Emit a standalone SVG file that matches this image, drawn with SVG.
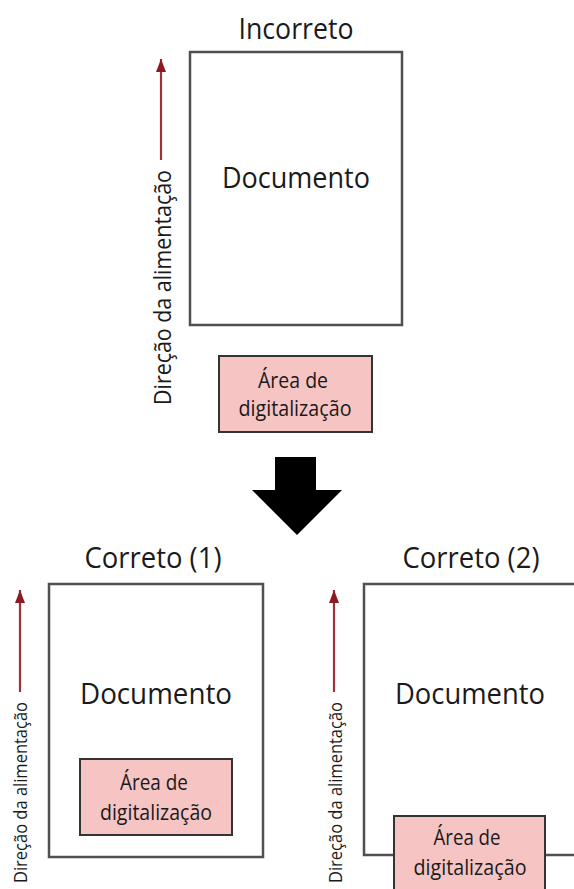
<svg xmlns="http://www.w3.org/2000/svg" width="574" height="889" viewBox="0 0 574 889">
<style>
.doc{fill:#fff;stroke:#505050;stroke-width:2.5}
.scan{fill:#f7c4c4;stroke:#333;stroke-width:2}
text{font-family:"Open Sans","Noto Sans",sans-serif;fill:#1a1a1a}
.t{font-size:29px;text-anchor:middle}
.s{font-size:21px;text-anchor:middle}
.feed{stroke:#a0303a;stroke-width:2.2;fill:none}
</style>
<defs>
<marker id="ah" markerWidth="13" markerHeight="10" refX="13" refY="5" orient="auto" markerUnits="userSpaceOnUse" viewBox="0 0 13 10">
<path d="M0,0 L13,5 L0,10 Z" fill="#8b1a24"/>
</marker>
</defs>
<g id="incorreto">
<text class="t" x="296" y="39" textLength="115" lengthAdjust="spacingAndGlyphs">Incorreto</text>
<rect class="doc" x="190" y="52" width="212" height="273"/>
<text class="t" x="296" y="188" textLength="148" lengthAdjust="spacingAndGlyphs">Documento</text>
</g>
<g id="scan-top">
<rect class="scan" x="219" y="356" width="153" height="76"/>
<text class="s" x="293" y="388" textLength="70" lengthAdjust="spacingAndGlyphs">Área de</text>
<text class="s" x="295" y="416" textLength="113" lengthAdjust="spacingAndGlyphs">digitalização</text>
</g>
<g id="feed-top">
<text x="0" y="0" transform="translate(171,405) rotate(-90)" font-size="24" textLength="235" lengthAdjust="spacingAndGlyphs">Direção da alimentação</text>
</g>
<g id="big-arrow">
<path d="M275,457 H316 V490 H342 L297,535 L252,490 H275 Z" fill="#000"/>
</g>
<g id="correto1">
<text class="t" x="153" y="568" textLength="137" lengthAdjust="spacingAndGlyphs">Correto (1)</text>
<rect class="doc" x="49" y="584" width="214" height="273"/>
<text class="t" x="156" y="704" textLength="152" lengthAdjust="spacingAndGlyphs">Documento</text>
<rect class="scan" x="80" y="759" width="152" height="76"/>
<text class="s" x="154" y="790" textLength="68" lengthAdjust="spacingAndGlyphs">Área de</text>
<text class="s" x="156" y="820" textLength="112" lengthAdjust="spacingAndGlyphs">digitalização</text>
<text x="0" y="0" transform="translate(27,883) rotate(-90)" font-size="19" textLength="181" lengthAdjust="spacingAndGlyphs">Direção da alimentação</text>
</g>
<g id="correto2">
<text class="t" x="471" y="568" textLength="137" lengthAdjust="spacingAndGlyphs">Correto (2)</text>
<rect class="doc" x="364" y="584" width="214" height="271"/>
<text class="t" x="470" y="704" textLength="150" lengthAdjust="spacingAndGlyphs">Documento</text>
<rect class="scan" x="394" y="816" width="151" height="80"/>
<text class="s" x="467" y="845" textLength="67" lengthAdjust="spacingAndGlyphs">Área de</text>
<text class="s" x="470" y="875" textLength="113" lengthAdjust="spacingAndGlyphs">digitalização</text>
<text x="0" y="0" transform="translate(342,883) rotate(-90)" font-size="19" textLength="181" lengthAdjust="spacingAndGlyphs">Direção da alimentação</text>
</g>
<g id="connectors">
<line class="feed" x1="161" y1="160" x2="161" y2="59" marker-end="url(#ah)"/>
<line class="feed" x1="20" y1="692" x2="20" y2="590" marker-end="url(#ah)"/>
<line class="feed" x1="334" y1="692" x2="334" y2="590" marker-end="url(#ah)"/>
</g>
</svg>
